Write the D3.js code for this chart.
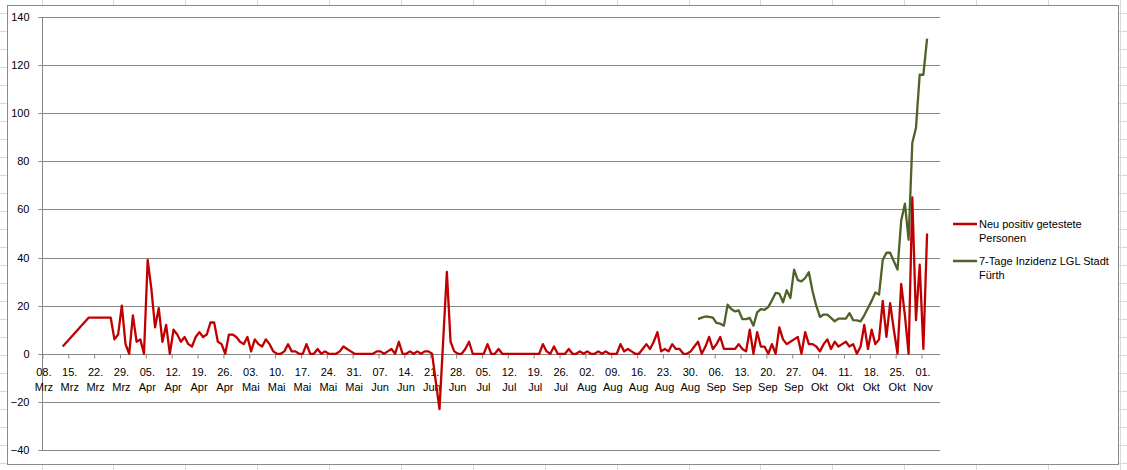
<!DOCTYPE html>
<html><head><meta charset="utf-8">
<script src="https://cdn.jsdelivr.net/npm/d3@7"></script>
<style>
body{margin:0;background:#fff;}
svg{display:block;font-family:"Liberation Sans",Arial,sans-serif;}
</style>
</head><body>
<svg id="c" width="1127" height="470"></svg>
<script>
// ---- data ----
const monthNames = ["Jan","Feb","Mrz","Apr","Mai","Jun","Jul","Aug","Sep","Okt","Nov","Dez"];
const axisStart = "2020-03-08";
const axisEnd = "2020-11-06";
const yTicks = [-40, -20, 0, 20, 40, 60, 80, 100, 120, 140];
const seriesNames = [["Neu positiv getestete", "Personen"], ["7-Tage Inzidenz LGL Stadt", "Fürth"]];

// daily values starting 13 Mar 2020 (null = no entry)
const redStart = "2020-03-13";
const redValues = [
  3, null, null, null, null, null, null,
  15, 15, 15, 15, 15, 15, 15,
  6, 8, 20, 4, 0, 16, 5, 6, 0,
  39, 27, 11, 19, 5, 12, 0,
  10, 8, 5, 7, 4, 3, 7,
  9, 7, 8, 13, 13, 5, 4,
  0, 8, 8, 7, 5, 4, 7,
  1, 6, 4, 3, 6, 4, 1,
  0, 0, 1, 4, 1, 1, 0,
  0, 4, 0, 0, 2, 0, 1,
  0, 0, 0, 1, 3, 2, 1,
  0, 0, 0, 0, 0, 0, 1,
  1, 0, 1, 2, 0, 5, 0,
  0, 1, 0, 1, 0, 1, 1,
  0, null, -23, null, 34, 5, 1,
  0, 0, 2, 5, 0, 0, 0,
  0, 4, 0, 0, 2, 0, 0,
  0, 0, 0, 0, 0, 0, 0,
  0, 0, 4, 1, 0, 3, 0,
  0, 0, 2, 0, 0, 1, 0,
  1, 0, 0, 1, 0, 1, 0,
  0, 0, 4, 1, 2, 1, 0,
  0, 2, 4, 2, 5, 9, 1,
  2, 1, 4, 2, 2, 0, 0,
  1, 3, 5, 0, 3, 7, 2,
  4, 7, 2, 2, 2, 2, 4,
  2, 1, 10, 0, 9, 3, 3,
  0, 4, 0, 11, 6, 4, 5,
  6, 7, 0, 9, 4, 4, 3,
  1, 4, 6, 2, 5, 3, 4,
  5, 3, 4, 0, 3, 12, 2,
  10, 4, 6, 22, 7, 21, 10,
  0, 29, 16, 0, 65, 14, 37,
  2, 50
];

// daily values starting 1 Sep 2020
const greenStart = "2020-09-01";
const greenValues = [
  14.4, 15, 15.5, 15.3, 15, 12.8, 12.5, 11.7, 20.4, 18.6, 17.6, 18,
  14.4, 14.4, 14.9, 11.7, 17.2, 18.6, 18.3, 19.4, 22.2, 25.3, 25, 21.4,
  26.4, 23.2, 35, 30.6, 30.1, 31.5, 33.9, 26, 20, 15.3, 16.3, 16.3,
  14.9, 13.5, 14.6, 14.6, 14.6, 16.9, 14, 13.9, 13.5, 16, 19, 22,
  25.5, 24.6, 39, 42, 42, 38.5, 35, 55.4, 62.4, 47.4, 87.6, 94,
  116, 116, 131
];

// ---- helpers ----
const parse = d3.utcParse("%Y-%m-%d");
function toPoints(start, values) {
  const s = parse(start);
  return values.map((v, i) => ({ date: d3.utcHour.offset(d3.utcDay.offset(s, i), 12), value: v }))
               .filter(d => d.value !== null);
}
const redData = toPoints(redStart, redValues);
const greenData = toPoints(greenStart, greenValues);

const W = 1127, H = 470;
const svg = d3.select("#c");
const gridColor = "#868686";

// spreadsheet cell grid behind the chart
const sheet = svg.append("g");
for (let y = 13.5 - 18; y < H; y += 18) {
  sheet.append("line").attr("x1", 0).attr("x2", W).attr("y1", y).attr("y2", y)
    .attr("stroke", "#d9d9d9").attr("stroke-width", 1);
}
for (let x = 41.5 - 71.9; x < W; x += 71.9) {
  const xx = Math.round(x) + 0.5;
  sheet.append("line").attr("x1", xx).attr("x2", xx).attr("y1", 0).attr("y2", H)
    .attr("stroke", "#d9d9d9").attr("stroke-width", 1);
}

// chart area
svg.append("rect").attr("x", 7.5).attr("y", 5.5).attr("width", 1111).attr("height", 459)
  .attr("fill", "#fff").attr("stroke", "#8a8a8a").attr("stroke-width", 1);

const x = d3.scaleUtc().domain([parse(axisStart), parse(axisEnd)]).range([42.4, 940]);
const y = d3.scaleLinear().domain([-40, 140]).range([450, 17]);
const px = v => Math.round(v) + 0.5;

// horizontal gridlines
svg.append("g").selectAll("line").data(yTicks).join("line")
  .attr("x1", 42).attr("x2", 940)
  .attr("y1", d => px(y(d))).attr("y2", d => px(y(d)))
  .attr("stroke", gridColor).attr("stroke-width", 1);

// y axis
const yAxis = svg.append("g").attr("transform", "translate(42.5,0)")
  .call(d3.axisLeft(y).tickValues(yTicks).tickSize(4).tickPadding(9).tickFormat(d3.format("d")));
yAxis.select(".domain").attr("stroke", gridColor).attr("d", `M0,${px(y(140))}V${px(y(-40))}`);
yAxis.selectAll(".tick").attr("transform", d => `translate(0,${px(y(d))})`);
yAxis.selectAll(".tick line").attr("stroke", gridColor);
yAxis.selectAll(".tick text").attr("fill", "#000").style("font-size", "11px")
  .style("font-family", '"Liberation Sans",Arial,sans-serif');

// x axis
const weekTicks = d3.utcDay.range(parse(axisStart), d3.utcDay.offset(parse("2020-11-01"), 1), 7);
const xAxis = svg.append("g").attr("transform", `translate(0,${px(y(0))})`)
  .call(d3.axisBottom(x).tickValues(weekTicks).tickSize(4).tickFormat(""));
xAxis.select(".domain").attr("stroke", gridColor).attr("d", "M42,0H940");
xAxis.selectAll(".tick line").attr("stroke", gridColor);
const fmtDay = d3.utcFormat("%d");
const lbl = svg.append("g").style("font-size", "11px").attr("fill", "#000");
weekTicks.forEach(t => {
  const cx = x(t) + 1.5;
  lbl.append("text").attr("x", cx).attr("y", 376).attr("text-anchor", "middle").text(fmtDay(t) + ".");
  lbl.append("text").attr("x", cx).attr("y", 391).attr("text-anchor", "middle").text(monthNames[t.getUTCMonth()]);
});

// lines
const line = d3.line().x(d => x(d.date)).y(d => y(d.value));
svg.append("path").datum(redData).attr("d", line).attr("fill", "none")
  .attr("stroke", "#C00000").attr("stroke-width", 2.3).attr("stroke-linejoin", "round");
svg.append("path").datum(greenData).attr("d", line).attr("fill", "none")
  .attr("stroke", "#4F6228").attr("stroke-width", 2.3).attr("stroke-linejoin", "round");

// legend
const legColors = ["#C00000", "#4F6228"];
const legY = [224, 261];
seriesNames.forEach((lines, i) => {
  svg.append("line").attr("x1", 953).attr("x2", 977).attr("y1", legY[i]).attr("y2", legY[i])
    .attr("stroke", legColors[i]).attr("stroke-width", 2.5);
  lines.forEach((t, j) => {
    svg.append("text").attr("x", 979).attr("y", legY[i] + 4 + j * 14)
      .style("font-size", "11px").attr("fill", "#000").text(t);
  });
});
</script>
</body></html>
